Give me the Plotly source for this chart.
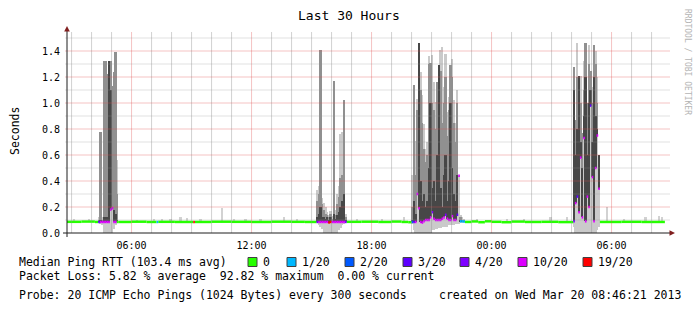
import pandas as pd
import plotly.graph_objects as go

# ---------------- data ----------------
title_text = "Last 30 Hours"
y_label = "Seconds"
range_start = "2013-03-19 02:46:21"
range_end = "2013-03-20 08:46:21"
y_ticks = [0.0, 0.2, 0.4, 0.6, 0.8, 1.0, 1.2, 1.4]

loss_labels = ["0", "1/20", "2/20", "3/20", "4/20", "10/20", "19/20"]
loss_levels = [0, 1, 2, 3, 4, 10, 19]
loss_colors = ["#26ff00", "#00b8ff", "#0059ff", "#5e00ff", "#7e00ff", "#dd00ff", "#ff0000"]

# median RTT (s) between bursts, read at irregular spacing
base_time = ["2013-03-19 02:46:21", "2013-03-19 03:30", "2013-03-19 04:10",
             "2013-03-19 05:20", "2013-03-19 06:00", "2013-03-19 06:45", "2013-03-19 07:15",
             "2013-03-19 07:20", "2013-03-19 08:10", "2013-03-19 09:05", "2013-03-19 09:10",
             "2013-03-19 10:00", "2013-03-19 11:00", "2013-03-19 12:00", "2013-03-19 13:00",
             "2013-03-19 14:00", "2013-03-19 14:40",
             "2013-03-19 16:45", "2013-03-19 17:30", "2013-03-19 18:20", "2013-03-19 19:00",
             "2013-03-19 19:30", "2013-03-19 19:50",
             "2013-03-19 22:40", "2013-03-19 23:00", "2013-03-19 23:20", "2013-03-19 23:40",
             "2013-03-20 00:00", "2013-03-20 00:30", "2013-03-20 01:00", "2013-03-20 01:40",
             "2013-03-20 02:30", "2013-03-20 03:20",
             "2013-03-20 05:25", "2013-03-20 06:30", "2013-03-20 07:30"]
base_med = [0.086, 0.088, 0.085,
            0.085, 0.087, 0.085, 0.085,
            0.086, 0.085, 0.084, 0.085,
            0.087, 0.086, 0.085, 0.087,
            0.086, 0.085,
            0.086, 0.087, 0.085, 0.088,
            0.085, 0.083,
            0.085, 0.089, 0.083, 0.090,
            0.086, 0.083, 0.088, 0.085,
            0.086, 0.084,
            0.085, 0.086, 0.085]
base_loss = [0, 0, 0,
             0, 0, 0, 1,
             0, 0, 19, 0,
             0, 0, 0, 0,
             0, 0,
             0, 0, 0, 0,
             0, 0,
             0, 0, 0, 0,
             0, 0, 0, 0,
             0, 0,
             0, 0, 0]
median_end = "2013-03-20 08:40"

# burst 1 (5-minute slots)
b1_start = "2013-03-19 04:20"
b1_max = [0.12, 0.78, 0.12, 1.32, 1.32, 1.22, 1.32, 1.32, 1.13, 1.24, 1.39, 0.56]
b1_upper = [0.10, 0.78, 0.10, 1.32, 1.32, 1.22, 1.32, 1.32, 1.13, 1.24, 1.39, 0.30]
b1_inner = [0.09, 0.10, 0.09, 0.12, 0.12, 0.12, 1.32, 1.10, 0.20, 0.18, 0.15, 0.10]
b1_low = [0.08, 0.07, 0.06, 0.00, 0.00, 0.00, 0.00, 0.00, 0.00, 0.03, 0.06, 0.08]
b1_med = [0.085, 0.085, 0.085, 0.085, 0.085, 0.085, 0.085, 0.18, 0.19, 0.085, 0.085, 0.085]
b1_loss = [3, 10, 10, 10, 10, 10, 10, 10, 10, 10, 10, 0]

# burst 2
b2_start = "2013-03-19 15:15"
b2_max = [0.33, 0.36, 1.41, 0.27, 0.23, 0.20, 0.16, 0.14, 0.17, 0.13, 1.17, 0.18, 0.30, 0.36, 0.76, 0.78, 1.02, 0.15]
b2_upper = [0.25, 0.30, 1.41, 0.22, 0.18, 0.15, 0.14, 0.12, 0.15, 0.11, 1.17, 0.14, 0.22, 0.28, 0.42, 0.45, 1.02, 0.12]
b2_inner = [0.12, 0.15, 0.20, 0.12, 0.12, 0.11, 0.12, 0.10, 0.12, 0.09, 0.15, 0.11, 0.14, 0.16, 0.20, 0.25, 0.30, 0.10]
b2_low = [0.08, 0.06, 0.05, 0.03, 0.00, 0.00, 0.00, 0.00, 0.00, 0.00, 0.00, 0.00, 0.00, 0.02, 0.04, 0.06, 0.07, 0.08]
b2_med = [0.085, 0.085, 0.085, 0.085, 0.085, 0.085, 0.085, 0.08, 0.085, 0.085, 0.085, 0.085, 0.085, 0.085, 0.085, 0.085, 0.085, 0.085]
b2_loss = [4, 10, 10, 10, 10, 10, 10, 19, 19, 10, 10, 10, 10, 10, 10, 10, 10, 4]

# burst 3
b3_start = "2013-03-19 20:00"
b3_max = [0.45, 1.14, 0.71, 1.03, 1.46, 1.24, 1.06, 0.84, 0.65, 0.70, 1.36, 1.31, 1.37, 1.16, 1.01, 1.16,
          1.29, 1.41, 1.43, 1.12, 1.38, 0.93, 1.05, 1.29, 1.34, 1.02, 0.85, 1.10, 0.44, 0.14, 0.12, 0.11]
b3_upper = [0.20, 1.14, 0.45, 0.95, 1.46, 1.10, 0.85, 0.65, 0.55, 0.60, 1.30, 1.31, 1.00, 0.95, 0.80, 1.16,
            1.20, 1.25, 0.85, 1.00, 1.20, 0.75, 0.95, 1.29, 1.20, 0.85, 0.70, 1.00, 0.44, 0.12, 0.10, 0.10]
b3_inner = [0.10, 0.25, 0.15, 0.30, 1.46, 0.40, 0.25, 0.30, 0.20, 0.25, 0.50, 1.00, 0.35, 0.40, 0.25, 0.60,
            1.29, 0.35, 0.20, 0.45, 0.60, 0.25, 0.40, 1.00, 0.50, 0.30, 0.25, 0.45, 0.44, 0.10, 0.09, 0.09]
b3_low = [0.07, 0.02, 0.00, 0.00, 0.00, 0.00, 0.00, 0.00, 0.00, 0.00, 0.00, 0.00, 0.02, 0.02, 0.03, 0.03,
          0.04, 0.04, 0.05, 0.05, 0.05, 0.05, 0.06, 0.06, 0.06, 0.06, 0.07, 0.07, 0.07, 0.08, 0.08, 0.08]
b3_med = [0.085, 0.085, 0.085, 0.30, 0.19, 0.085, 0.08, 0.09, 0.10, 0.10, 0.10, 0.12, 0.16, 0.11, 0.10, 0.10,
          0.10, 0.10, 0.11, 0.12, 0.14, 0.11, 0.10, 0.10, 0.13, 0.10, 0.10, 0.14, 0.44, 0.09, 0.09, 0.088]
b3_loss = [2, 3, 10, 10, 10, 10, 10, 10, 10, 10, 10, 10, 4, 10, 10, 10,
           10, 10, 10, 10, 4, 10, 10, 10, 10, 10, 10, 3, 10, 1, 1, 1]

# burst 4
b4_start = "2013-03-20 04:05"
b4_max = [1.28, 0.87, 1.46, 1.21, 1.21, 0.77, 1.32, 1.46, 1.00, 1.45, 1.25, 1.12, 1.45, 1.40, 1.20, 0.60]
b4_upper = [1.28, 0.87, 1.20, 1.21, 1.00, 0.77, 1.10, 1.46, 1.00, 1.30, 1.25, 1.00, 1.45, 1.30, 1.00, 0.60]
b4_inner = [1.10, 0.60, 0.80, 1.21, 0.70, 0.50, 0.90, 1.20, 0.60, 1.00, 1.10, 0.70, 1.20, 0.90, 0.80, 0.60]
b4_low = [0.05, 0.00, 0.00, 0.00, 0.00, 0.00, 0.00, 0.00, 0.00, 0.00, 0.00, 0.00, 0.00, 0.00, 0.02, 0.05]
b4_med = [0.09, 0.23, 0.28, 0.16, 0.58, 0.12, 0.73, 0.09, 0.28, 0.20, 0.98, 0.43, 0.09, 0.50, 0.75, 0.34]
b4_loss = [4, 10, 3, 10, 10, 10, 10, 10, 10, 10, 3, 10, 10, 10, 10, 10]

# small smoke spikes over the quiet baseline
noise_time = ["2013-03-19 03:05", "2013-03-19 03:50", "2013-03-19 06:15", "2013-03-19 07:05",
              "2013-03-19 07:30", "2013-03-19 07:55", "2013-03-19 08:25", "2013-03-19 08:45",
              "2013-03-19 09:25", "2013-03-19 10:30", "2013-03-19 11:05", "2013-03-19 11:40",
              "2013-03-19 12:25", "2013-03-19 13:35", "2013-03-19 14:15", "2013-03-19 17:15",
              "2013-03-19 18:30", "2013-03-19 19:35", "2013-03-19 23:15", "2013-03-20 00:45",
              "2013-03-20 01:35", "2013-03-20 02:55", "2013-03-20 03:45", "2013-03-20 05:45",
              "2013-03-20 06:35", "2013-03-20 07:40", "2013-03-20 08:20", "2013-03-20 08:30"]
noise_max = [0.105, 0.11, 0.10, 0.11, 0.105, 0.11, 0.12, 0.115,
             0.11, 0.19, 0.11, 0.105, 0.11, 0.12, 0.11, 0.11,
             0.105, 0.12, 0.11, 0.105, 0.11, 0.12, 0.12, 0.20,
             0.11, 0.12, 0.13, 0.12]

legend_title = "Median Ping RTT (103.4 ms avg)"
loss_stats = "Packet Loss: 5.82 % average  92.82 % maximum  0.00 % current"
probe_text = "Probe: 20 ICMP Echo Pings (1024 Bytes) every 300 seconds"
created_text = "created on Wed Mar 20 08:46:21 2013"
watermark = "RRDTOOL / TOBI OETIKER"

# ---------------- assemble ----------------
def to_dt(v):
    return pd.to_datetime(v, format="mixed")


bursts = [
    (b1_start, b1_max, b1_upper, b1_inner, b1_low, b1_med, b1_loss),
    (b2_start, b2_max, b2_upper, b2_inner, b2_low, b2_med, b2_loss),
    (b3_start, b3_max, b3_upper, b3_inner, b3_low, b3_med, b3_loss),
    (b4_start, b4_max, b4_upper, b4_inner, b4_low, b4_med, b4_loss),
]
frames = []
for start, mx, up, inn, lo, md, ls in bursts:
    t = pd.date_range(start, periods=len(mx), freq="5min")
    frames.append(pd.DataFrame({"t": t, "max": mx, "upper": up, "inner": inn,
                                "low": lo, "med": md, "loss": ls}))
smoke = pd.concat(frames, ignore_index=True)

med = pd.concat([
    pd.DataFrame({"t": to_dt(base_time), "med": base_med, "loss": base_loss}),
    smoke[["t", "med", "loss"]],
], ignore_index=True).sort_values("t").reset_index(drop=True)
med["t_end"] = med["t"].shift(-1)
med.loc[med.index[-1], "t_end"] = pd.Timestamp(median_end)

noise = pd.DataFrame({"t": to_dt(noise_time), "max": noise_max})
noise = pd.merge_asof(noise.sort_values("t"), med[["t", "med"]], on="t")

FONT = "DejaVu Sans Mono"
W, H = 697, 313
L, R, T, B = 67, 667, 32, 233


def px(x):
    return (x - L) / (R - L)


def py(y):
    return (B - y) / (B - T)


fig = go.Figure()
bar_w = 5 * 60 * 1000


def add_bars(x, base, top, color):
    h = [max(tp - bs, 0) for bs, tp in zip(base, top)]
    fig.add_trace(go.Bar(x=list(x), y=h, base=list(base), width=bar_w, offset=0,
                         marker=dict(color=color, line=dict(width=0)),
                         hoverinfo="skip", showlegend=False))


add_bars(noise["t"], noise["med"], noise["max"], "#d2d2d2")
add_bars(smoke["t"], smoke["low"], smoke["max"], "#cacaca")
add_bars(smoke["t"], smoke["med"], smoke["upper"], "#909090")
add_bars(smoke["t"], smoke["med"], smoke["inner"], "#474747")

for lvl, col in zip(loss_levels, loss_colors):
    sub = med[med["loss"] == lvl]
    xs, ys = [], []
    for _, r in sub.iterrows():
        xs += [r["t"], r["t_end"], None]
        ys += [r["med"], r["med"], None]
    if xs:
        fig.add_trace(go.Scatter(x=xs, y=ys, mode="lines", line=dict(color=col, width=2.5),
                                 hoverinfo="skip", showlegend=False))

MAJOR = "rgba(222,79,79,0.34)"
MINOR_V = "rgba(143,143,143,0.40)"
MINOR_H = "rgba(143,143,143,0.28)"
shapes = []
# grid drawn above the smoke, like rrdtool
for h in pd.date_range("2013-03-19 03:00", "2013-03-20 08:00", freq="1h"):
    major = h.hour % 6 == 0
    shapes.append(dict(type="line", xref="x", yref="paper", x0=h, x1=h, y0=0, y1=1,
                       line=dict(color=MAJOR if major else MINOR_V, width=1), layer="above"))
for k in range(1, 16):
    v = k / 10
    major = k % 2 == 0
    shapes.append(dict(type="line", xref="paper", yref="y", x0=px(65), x1=px(670), y0=v, y1=v,
                       line=dict(color=MAJOR if major else MINOR_H, width=1), layer="above"))
# axes with arrows
axis_col = "#1f1f1f"
arrow_col = "#801f1f"
shapes.append(dict(type="line", xref="paper", yref="paper", x0=px(67), x1=px(67), y0=py(237), y1=py(30),
                   line=dict(color=axis_col, width=1), layer="above"))
shapes.append(dict(type="line", xref="paper", yref="paper", x0=px(63), x1=px(670), y0=py(233), y1=py(233),
                   line=dict(color=axis_col, width=1), layer="above"))
shapes.append(dict(type="path", xref="paper", yref="paper",
                   path=f"M {px(67)} {py(26)} L {px(64.2)} {py(31.5)} L {px(69.8)} {py(31.5)} Z",
                   fillcolor=arrow_col, line=dict(width=0), layer="above"))
shapes.append(dict(type="path", xref="paper", yref="paper",
                   path=f"M {px(675)} {py(233)} L {px(669.5)} {py(230.2)} L {px(669.5)} {py(235.8)} Z",
                   fillcolor=arrow_col, line=dict(width=0), layer="above"))

# legend boxes
box_x = [248, 287, 345, 403, 460, 518, 583]
for bx, col in zip(box_x, loss_colors):
    shapes.append(dict(type="rect", xref="paper", yref="paper", x0=px(bx), x1=px(bx + 9),
                       y0=py(266.5), y1=py(257.5), fillcolor=col,
                       line=dict(color="#404040", width=1), layer="above"))

ann = []


def text(x, y, s, size=11.5, anchor="left", color="#000", angle=0):
    ann.append(dict(xref="paper", yref="paper", x=px(x), y=py(y), text=s.replace("  ", " \u00a0"),
                    showarrow=False, xanchor=anchor, yanchor="middle", textangle=angle,
                    font=dict(family=FONT, size=size, color=color)))


text(348.5, 16, title_text, size=13, anchor="center")
text(15, 131, y_label, size=11.5, anchor="center", angle=-90)
text(688, 62, watermark, size=8, anchor="center", color="#b4b4b4", angle=90)
text(17, 262, legend_title)
for bx, lab in zip(box_x, loss_labels):
    text(bx + 13, 262, lab)
text(17, 276, loss_stats)
text(17, 295, probe_text)
text(436.5, 295, created_text)

fig.update_layout(
    width=W, height=H,
    margin=dict(l=L, r=W - R, t=T, b=H - B, pad=0),
    paper_bgcolor="white", plot_bgcolor="white",
    barmode="overlay", bargap=0, showlegend=False,
    shapes=shapes, annotations=ann,
    font=dict(family=FONT, color="#000"),
)
fig.update_xaxes(type="date", range=[range_start, range_end], tick0="2013-03-19 00:00",
                 dtick=6 * 3600 * 1000, tickformat="%H:%M", showgrid=False, zeroline=False,
                 showline=False, ticks="", ticklabelstandoff=5,
                 tickfont=dict(family=FONT, size=10, color="#000"), fixedrange=True)
fig.update_yaxes(range=[0, (B - T) / 130.0], tickvals=y_ticks, ticktext=[f"{v:.1f}" for v in y_ticks],
                 showgrid=False, zeroline=False, showline=False, ticks="", ticklabelstandoff=6,
                 tickfont=dict(family=FONT, size=10, color="#000"), fixedrange=True)

fig.write_html("out.html")
